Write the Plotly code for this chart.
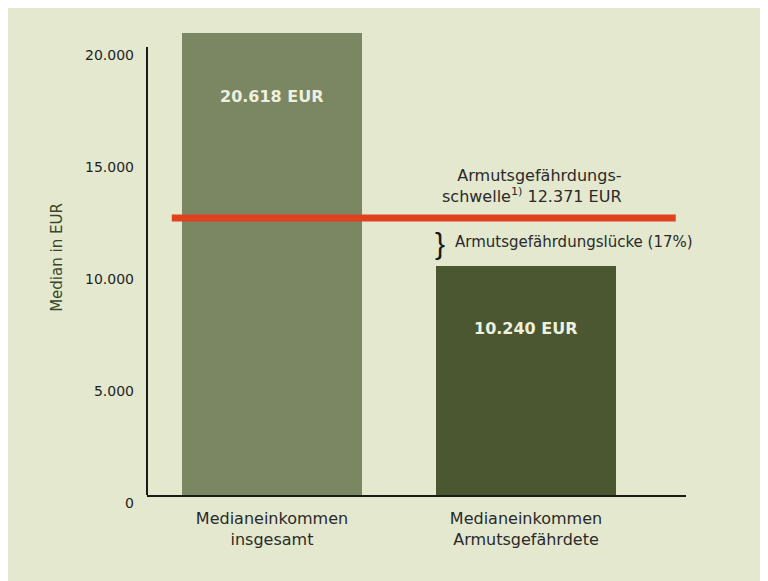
import plotly.graph_objects as go

# ---- data ----
categories = ["Medianeinkommen<br>insgesamt", "Medianeinkommen<br>Armutsgefährdete"]
values = [20618, 10240]
threshold = 12371
gap_pct = 17
y_ticks = [0, 5000, 10000, 15000, 20000]
y_ticklabels = ["0", "5.000", "10.000", "15.000", "20.000"]

bar_colors = ["#7b8663", "#4b5731"]
bg = "#e3e8cf"
font_main = "DejaVu Sans"


def fmt(v):
    return f"{v:,}".replace(",", ".")


fig = go.Figure()
fig.add_trace(go.Bar(
    x=[0, 1], y=values, width=0.71,
    marker=dict(color=bar_colors, line=dict(width=0)),
    hoverinfo="skip",
))

# y axis line (only up to 20.000)
fig.add_shape(type="line", xref="paper", yref="y", x0=0, x1=0, y0=0, y1=y_ticks[-1],
              line=dict(color="#1a1a1a", width=2))

# threshold line
fig.add_shape(type="line", xref="paper", yref="y", x0=0.046, x1=0.981, y0=threshold, y1=threshold,
              line=dict(color="#e0411f", width=7))

annotations = []
for i, v in enumerate(values):
    annotations.append(dict(x=i, y=v, xref="x", yref="y", text=f"<b>{fmt(v)} EUR</b>",
                            showarrow=False, yanchor="middle", yshift=-63,
                            font=dict(family=font_main, size=16, color="#eef0df")))

annotations.append(dict(x=1.386, y=threshold, xref="x", yref="y",
                        text=f"Armutsgefährdungs-<br>schwelle<sup>1)</sup> {fmt(threshold)} EUR",
                        showarrow=False, xanchor="right", yanchor="bottom", align="right",
                        yshift=10,
                        font=dict(family=font_main, size=16, color="#2a2a2a")))
annotations.append(dict(x=0.66, y=(threshold + values[1]) / 2, xref="x", yref="y", text="}",
                        showarrow=False, xanchor="center", yanchor="middle", yshift=-2,
                        font=dict(family="Liberation Sans", size=30, color="#1a1a1a")))
annotations.append(dict(x=0.713, y=(threshold + values[1]) / 2, xref="x", yref="y",
                        text=f"Armutsgefährdungslücke ({gap_pct}%)",
                        showarrow=False, xanchor="left", yanchor="middle",
                        font=dict(family=font_main, size=15, color="#2a2a2a")))

fig.update_layout(
    width=768, height=581,
    margin=dict(l=139, r=90, t=12, b=94),
    paper_bgcolor=bg, plot_bgcolor=bg,
    showlegend=False,
    font=dict(family=font_main, color="#2a2a2a"),
    annotations=annotations,
    bargap=0,
)
fig.update_xaxes(
    range=[-0.492, 1.630],
    tickvals=[0, 1], ticktext=categories,
    showline=True, linecolor="#1a1a1a", linewidth=2,
    showgrid=False, zeroline=False, ticks="",
    ticklabelstandoff=8,
    tickfont=dict(family=font_main, size=16, color="#2a2a2a"),
)
fig.update_yaxes(
    range=[0, 21205],
    tickvals=y_ticks, ticktext=y_ticklabels,
    showline=False, showgrid=False, zeroline=False, ticks="",
    ticklabelstandoff=12, ticklabelshift=8,
    tickfont=dict(family=font_main, size=14, color="#1f1f1f"),
    title=dict(text="Median in EUR", standoff=18,
               font=dict(family=font_main, size=15, color="#3a4628")),
)

fig.write_html("out.html")
